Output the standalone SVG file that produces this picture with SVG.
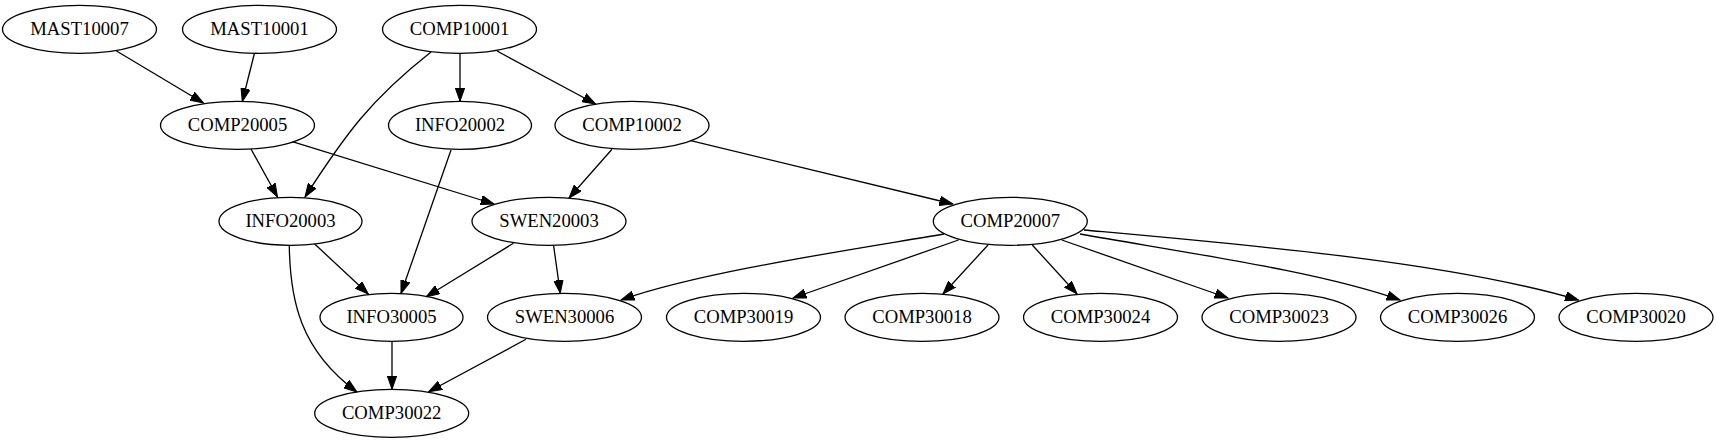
<svg xmlns="http://www.w3.org/2000/svg" width="1717" height="443" viewBox="0 0 1717 443">
<style>
.n ellipse{fill:none;stroke:#000;stroke-width:1.3}
.n text{font-family:"Liberation Serif","Times New Roman",serif;font-size:18.67px;text-anchor:middle;fill:#000}
#edges path{fill:none;stroke:#000;stroke-width:1.3;marker-end:url(#ah)}
</style>
<defs>
<marker id="ah" markerUnits="userSpaceOnUse" markerWidth="14" markerHeight="10" viewBox="0 0 14 10" refX="13.3" refY="5" orient="auto">
<path d="M0,0.33 L13.3,5 L0,9.67 Z" fill="#000" stroke="#000" stroke-width="1"/>
</marker>
</defs>
<rect width="1717" height="443" fill="#fff"/>
<g id="edges">
<path d="M116.5,51 L203.5,103"/>
<path d="M254.5,53 L242.3,101.5"/>
<path d="M431,52 C370,100 345,135 305,197"/>
<path d="M460,53.3 L460,101.3"/>
<path d="M497,51 L595.6,104"/>
<path d="M251,149 L277.5,197"/>
<path d="M292.3,141.7 L494,204"/>
<path d="M612,149.3 L569,198"/>
<path d="M690.7,140.7 L952.8,204"/>
<path d="M451,150 L401,293.5"/>
<path d="M314.7,244 L368.3,294"/>
<path d="M289.3,245.5 C290,300 300,350 357,392"/>
<path d="M513.4,243.3 L426.3,296.7"/>
<path d="M553.6,245.6 L560.3,293.3"/>
<path d="M392,341.3 L392,389.3"/>
<path d="M526,339.3 L428.6,391.7"/>
<path d="M944,234 C850,250 700,272 621,300"/>
<path d="M958.5,240 L793,298"/>
<path d="M988,245 L943,294"/>
<path d="M1032.3,245 L1077,294"/>
<path d="M1061.8,240 L1228,298"/>
<path d="M1080,234 C1200,255 1320,272 1400,300"/>
<path d="M1084,230 C1250,245 1450,262 1578.5,300"/>
</g>
<g id="MAST10007" class="n"><ellipse cx="79.5" cy="29.3" rx="77" ry="24"/><text x="79.5" y="34.5">MAST10007</text></g>
<g id="MAST10001" class="n"><ellipse cx="259.5" cy="29.3" rx="77" ry="24"/><text x="259.5" y="34.5">MAST10001</text></g>
<g id="COMP10001" class="n"><ellipse cx="459.5" cy="29.3" rx="77" ry="24"/><text x="459.5" y="34.5">COMP10001</text></g>
<g id="COMP20005" class="n"><ellipse cx="237.5" cy="125.3" rx="77" ry="24"/><text x="237.5" y="130.5">COMP20005</text></g>
<g id="INFO20002" class="n"><ellipse cx="460" cy="125.3" rx="71.5" ry="24"/><text x="460" y="130.5">INFO20002</text></g>
<g id="COMP10002" class="n"><ellipse cx="632" cy="125.3" rx="77" ry="24"/><text x="632" y="130.5">COMP10002</text></g>
<g id="INFO20003" class="n"><ellipse cx="290.5" cy="221.3" rx="71.5" ry="24"/><text x="290.5" y="226.5">INFO20003</text></g>
<g id="SWEN20003" class="n"><ellipse cx="549" cy="221.3" rx="77" ry="24"/><text x="549" y="226.5">SWEN20003</text></g>
<g id="COMP20007" class="n"><ellipse cx="1010.3" cy="221.3" rx="77" ry="24"/><text x="1010.3" y="226.5">COMP20007</text></g>
<g id="INFO30005" class="n"><ellipse cx="391.5" cy="317.3" rx="71.5" ry="24"/><text x="391.5" y="322.5">INFO30005</text></g>
<g id="SWEN30006" class="n"><ellipse cx="564.5" cy="317.3" rx="77" ry="24"/><text x="564.5" y="322.5">SWEN30006</text></g>
<g id="COMP30019" class="n"><ellipse cx="743.5" cy="317.3" rx="77" ry="24"/><text x="743.5" y="322.5">COMP30019</text></g>
<g id="COMP30018" class="n"><ellipse cx="922" cy="317.3" rx="77" ry="24"/><text x="922" y="322.5">COMP30018</text></g>
<g id="COMP30024" class="n"><ellipse cx="1100.5" cy="317.3" rx="77" ry="24"/><text x="1100.5" y="322.5">COMP30024</text></g>
<g id="COMP30023" class="n"><ellipse cx="1279" cy="317.3" rx="77" ry="24"/><text x="1279" y="322.5">COMP30023</text></g>
<g id="COMP30026" class="n"><ellipse cx="1457.5" cy="317.3" rx="77" ry="24"/><text x="1457.5" y="322.5">COMP30026</text></g>
<g id="COMP30020" class="n"><ellipse cx="1636" cy="317.3" rx="77" ry="24"/><text x="1636" y="322.5">COMP30020</text></g>
<g id="COMP30022" class="n"><ellipse cx="391.7" cy="413.3" rx="77" ry="24"/><text x="391.7" y="418.5">COMP30022</text></g>
</svg>
